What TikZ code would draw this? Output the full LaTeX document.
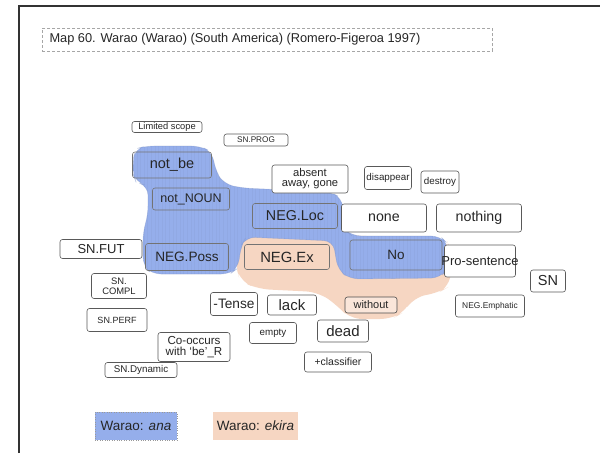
\documentclass[tikz,border=0pt]{standalone}
\usepackage{fontspec}
\setmainfont{Liberation Sans}
\begin{document}
\begin{tikzpicture}[x=1pt,y=-1pt,
  box/.style={draw=black!65, line width=0.6pt, rounded corners=2.5pt, inner sep=0.5pt, align=center, text=black!85},
  wbox/.style={box, fill=white},
  tbox/.style={box, draw=black!55},
  fs/.style={font=\fontsize{#1}{#1}\selectfont},
  legend/.style={draw=black!40, dotted, inner sep=0pt, minimum height=28, text=black!85, font=\fontsize{13.5}{14}\selectfont}
]
\definecolor{anablue}{HTML}{95AEEB}
\definecolor{ekirabeige}{HTML}{F6D6C2}
\useasboundingbox (0,0) rectangle (600,453);
\fill[white] (0,0) rectangle (600,453);

% page frame
\draw[line width=2pt, black!80] (19,453) -- (19,6);
\draw[line width=1.3pt, black!80] (18,6) -- (600,6);

% title
\node[draw=black!35, densely dashed, line width=0.5pt, minimum width=450, minimum height=23, anchor=north west, inner sep=0pt] (titlebox) at (42,28) {};
\node[anchor=west, fs=12.8, text=black!85] (title) at (46,39.5) {Map 60. Warao (Warao) (South America) (Romero-Figeroa 1997)};

% area of Warao ekira
\fill[ekirabeige, rounded corners=12pt]
  (236,252) -- (240,237) -- (340,235) -- (446,239) -- (452,252) -- (450,286)
  -- (438,293) -- (414,297) -- (404,312) -- (392,319) -- (350,319) -- (337,305)
  -- (318,292) -- (258,289) -- (240,281) -- (236,266) -- cycle;

% area of Warao ana, with its faint screen texture
\def\anaarea{[rounded corners=9pt]
  (133,162) -- (135,149) -- (146,146) -- (200,146) -- (212,152) -- (216,172)
  -- (224,184) -- (242,188) -- (330,192) -- (342,198) -- (345,230) -- (352,236)
  -- (440,236) -- (448,244) -- (448,268) -- (440,278) -- (350,279) -- (338,270)
  -- (333,241) -- (246,237) -- (241,246) -- (238,268) -- (230,274) -- (152,274)
  -- (143,266) -- (143,232) -- (148,215) -- (148,186) -- (136,182) -- (133,174) -- cycle}
\fill[anablue] \anaarea;
\begin{scope}
  \clip \anaarea;
  \draw[anablue!75!black, opacity=0.1, line width=0.4pt, step=3.6] (130,140) grid (452,282);
\end{scope}
\draw[anablue!80!black, opacity=0.3, line width=0.6pt] \anaarea;

% nodes inside the shaded areas
\node[tbox, fs=14.5, minimum width=79, minimum height=26] (notbe) at (172,165) {not\_be};
\node[tbox, fs=12.5, minimum width=77, minimum height=22] (notnoun) at (191,199) {not\_NOUN};
\node[tbox, fs=14.3, minimum width=85, minimum height=25] (negloc) at (295,216) {NEG.Loc};
\node[tbox, fs=13.6, minimum width=83, minimum height=27] (negposs) at (187,257) {NEG.Poss};
\node[tbox, fs=14.8, minimum width=85, minimum height=25] (negex) at (287,257) {NEG.Ex};
\node[tbox, fs=13.5, minimum width=92, minimum height=30] (no) at (396,255) {No};
\node[box, draw=black!70, fill=ekirabeige!60, fs=11, minimum width=52, minimum height=16] (without) at (371,305) {without};

% other nodes
\node[wbox, fs=9.3, minimum width=70, minimum height=11] (limited) at (167,127) {Limited scope};
\node[wbox, fs=8.2, minimum width=64, minimum height=12] (snprog) at (256,140) {SN.PROG};
\node[wbox, fs=11.2, minimum width=76, minimum height=28] (absent) at (310,179) {absent\\[-1pt]away, gone};
\node[wbox, fs=9.8, minimum width=47, minimum height=23] (disappear) at (388,178) {disappear};
\node[wbox, fs=9.8, minimum width=38, minimum height=22] (destroy) at (440,182) {destroy};
\node[wbox, fs=14.2, minimum width=85, minimum height=28] (none) at (384,218) {none};
\node[wbox, fs=14.2, minimum width=85, minimum height=28] (nothing) at (479,218) {nothing};
\node[wbox, fs=13, minimum width=82, minimum height=19] (snfut) at (101,249) {SN.FUT};
\node[wbox, minimum width=71, minimum height=32] (prosent) at (480,261) {};
\node[fs=13, text=black!85, inner sep=0pt] (prosenttext) at (prosent.center) {Pro-sentence};
\node[wbox, fs=14.5, minimum width=35, minimum height=22] (sn) at (548,281) {SN};
\node[wbox, fs=9.4, minimum width=55, minimum height=25] (sncompl) at (119,286) {SN.\\[1pt]COMPL};
\node[wbox, fs=13.7, minimum width=47, minimum height=23] (tense) at (234,304) {-Tense};
\node[wbox, fs=15, minimum width=49, minimum height=20] (lack) at (292,305) {lack};
\node[wbox, fs=8.4, minimum width=69, minimum height=22] (negemph) at (490,306) {NEG.Emphatic};
\node[wbox, fs=9, minimum width=60, minimum height=23] (snperf) at (117,320) {SN.PERF};
\node[wbox, fs=9.8, minimum width=47, minimum height=21] (empty) at (273,333) {empty};
\node[wbox, fs=15, minimum width=51, minimum height=22] (dead) at (343,331) {dead};
\node[wbox, fs=11.6, minimum width=72, minimum height=29] (cooccurs) at (194,347) {Co-occurs\\with `be'\_R};
\node[wbox, fs=10.5, minimum width=67, minimum height=20] (classif) at (338,362) {+classifier};
\node[wbox, fs=9.8, minimum width=72, minimum height=15] (sndyn) at (141,370) {SN.Dynamic};

% legend
\node[legend, fill=anablue, minimum width=82] (legana) at (136,426) {Warao: \textit{ana}};
\node[legend, draw=none, fill=ekirabeige, minimum width=85] (legekira) at (255.5,426) {Warao: \textit{ekira}};
\end{tikzpicture}
\end{document}
